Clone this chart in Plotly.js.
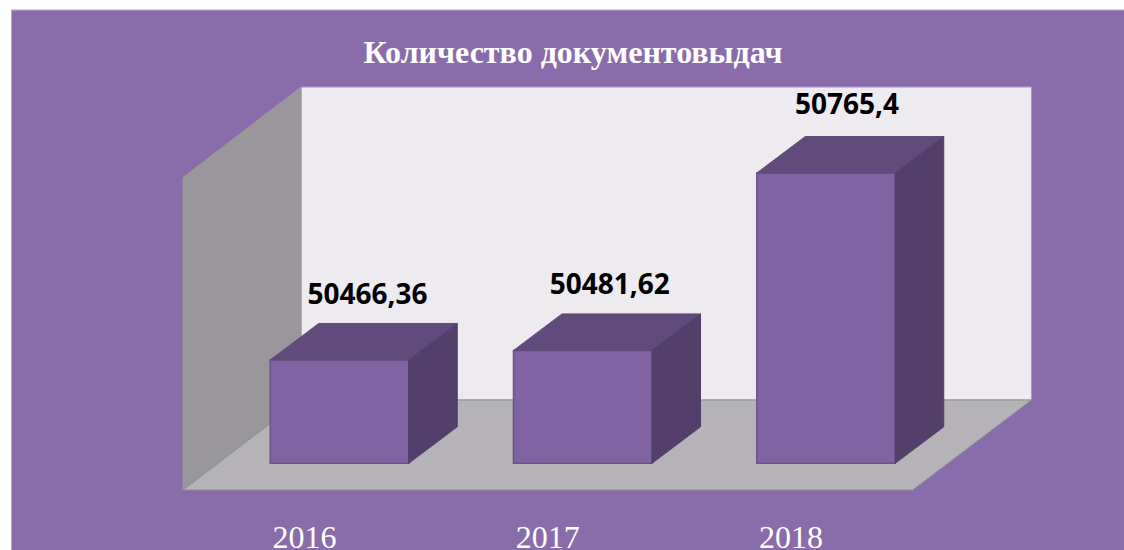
<!DOCTYPE html>
<html>
<head>
<meta charset="utf-8">
<script src="https://cdn.plot.ly/plotly-3.0.1.min.js"></script>
<style>html,body{margin:0;padding:0;background:#fff;overflow:hidden}#chart{width:1124px;height:550px}</style>
</head>
<body>
<div id="chart"></div>
<script>
const chartTitle = "Количество документовыдач";
const years = ["2016", "2017", "2018"];
const values = [50466.36, 50481.62, 50765.4];
const valueLabels = ["50466,36", "50481,62", "50765,4"];

const W = 1124, H = 550, plotH = 490;
const pxPerUnitX = 243.25, pxPerUnitY = 0.625, zeroPx = 339.5;
const baseValue = 50301, basePx = 463.3;
const xRange = [-zeroPx / pxPerUnitX, (W - zeroPx) / pxPerUnitX];
const yMin = baseValue - (plotH - basePx) / pxPerUnitY;
const yRange = [yMin, yMin + plotH / pxPerUnitY];
const barWidth = 138.5 / pxPerUnitX;
const depthX = 48.5 / pxPerUnitX, depthY = 36.5 / pxPerUnitY;
const labelShiftPx = [28, 27, 21];
const labelRisePx = [26, 26.5, 29.5];
const tickShiftPx = -35;
const positions = years.map((_, i) => i);

const topX = [], topY = [], sideX = [], sideY = [];
values.forEach((v, i) => {
  const l = i - barWidth / 2, r = i + barWidth / 2;
  topX.push(l, l + depthX, r + depthX, r, l, null);
  topY.push(v, v + depthY, v + depthY, v, v, null);
  sideX.push(r, r + depthX, r + depthX, r, r, null);
  sideY.push(v, v + depthY, baseValue + depthY, baseValue, v, null);
});

const px = x => x / W;
const py = y => (plotH - y) / plotH;
const poly = pts => "M" + pts.map(p => px(p[0]).toFixed(5) + "," + py(p[1]).toFixed(5)).join("L") + "Z";
const shape = (pts, fill, line) => ({
  type: "path", xref: "paper", yref: "paper", layer: "below", path: poly(pts),
  fillcolor: fill, line: {color: line, width: 1}
});

const traces = [
  {type: "bar", x: positions, y: values.map(v => v - baseValue), base: baseValue, width: barWidth,
   marker: {color: "#8163A3", line: {color: "#6B5289", width: 1.5}}, hoverinfo: "skip", showlegend: false},
  {type: "scatter", mode: "lines", x: topX, y: topY, fill: "toself", fillcolor: "#614B7A",
   line: {color: "#5F4A78", width: 1}, hoverinfo: "skip", showlegend: false},
  {type: "scatter", mode: "lines", x: sideX, y: sideY, fill: "toself", fillcolor: "#533F6A",
   line: {color: "#533F6A", width: 1}, hoverinfo: "skip", showlegend: false},
  {type: "scatter", mode: "text",
   x: positions.map((p, i) => p + labelShiftPx[i] / pxPerUnitX),
   y: values.map((v, i) => v + depthY + labelRisePx[i] / pxPerUnitY),
   text: valueLabels, textposition: "middle center", cliponaxis: false,
   textfont: {family: "Noto Sans, sans-serif", size: 28, color: "#000000", weight: 700},
   hoverinfo: "skip", showlegend: false}
];

const layout = {
  width: W, height: H,
  margin: {l: 0, r: 0, t: 0, b: H - plotH, pad: 0},
  paper_bgcolor: "#ffffff",
  plot_bgcolor: "rgba(0,0,0,0)",
  showlegend: false,
  bargap: 0,
  title: {
    text: "<b>" + chartTitle + "</b>",
    font: {family: "Liberation Serif, serif", size: 32, color: "#ffffff"},
    x: 573 / W, xanchor: "center", xref: "paper",
    y: 1 - 51.5 / H, yanchor: "middle", yref: "container"
  },
  xaxis: {
    range: xRange, tickmode: "array",
    tickvals: positions.map(p => p + tickShiftPx / pxPerUnitX), ticktext: years,
    ticks: "outside", ticklen: 19, tickcolor: "rgba(0,0,0,0)",
    tickfont: {family: "Liberation Serif, serif", size: 32, color: "#ffffff"},
    showgrid: false, zeroline: false, showline: false, fixedrange: true, automargin: false
  },
  yaxis: {
    range: yRange, visible: false, showgrid: false, zeroline: false, fixedrange: true, automargin: false
  },
  shapes: [
    shape([[11.5, 10], [1126, 10], [1126, 552], [11.5, 552]], "#8B6CAA", "#B7A5CB"),
    shape([[301, 87], [1031.5, 87], [1031.5, 400], [301, 400]], "#EDEBF0", "#A994C2"),
    shape([[183, 177.5], [301, 87], [301, 400], [183, 490]], "#99979B", "#99979B"),
    shape([[183, 490], [301, 400], [1031.5, 400], [912.7, 490]], "#B5B3B7", "#8E8E90")
  ]
};

Plotly.newPlot("chart", traces, layout, {displayModeBar: false, staticPlot: true});
</script>
</body>
</html>
